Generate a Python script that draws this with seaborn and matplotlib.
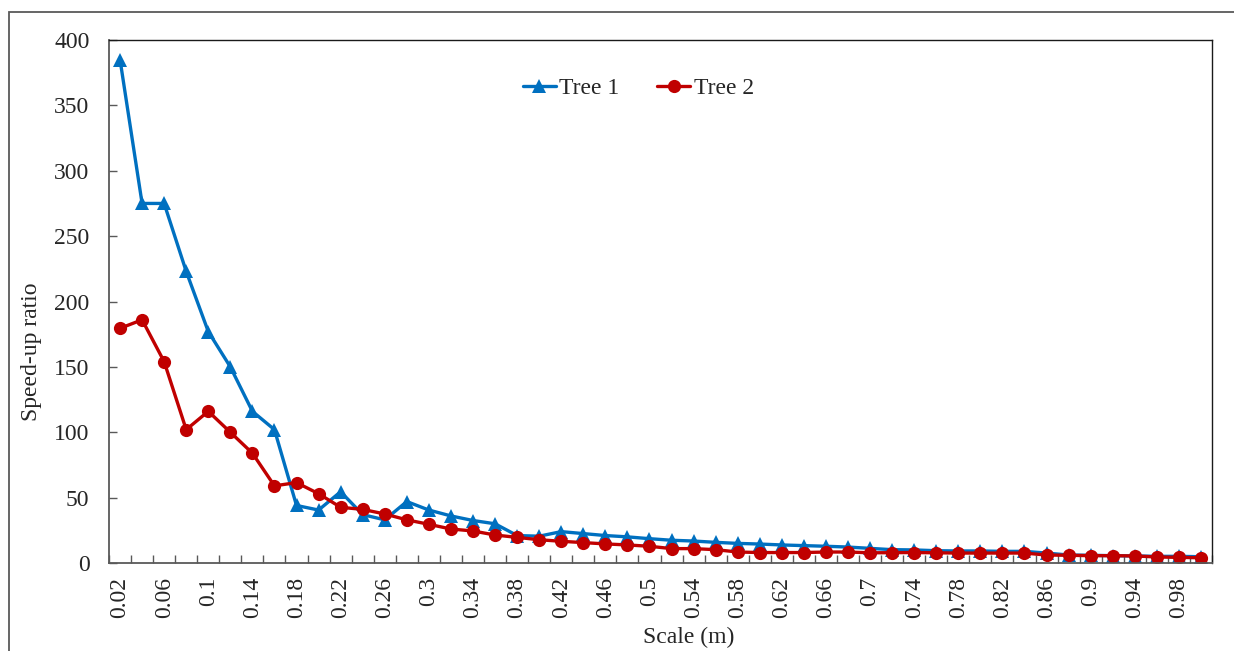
import pandas as pd
import matplotlib.pyplot as plt
import seaborn as sns
from matplotlib.patches import Rectangle

# scale values (m), one category every 0.02
scale = [0.02, 0.04, 0.06, 0.08, 0.10, 0.12, 0.14, 0.16, 0.18, 0.20,
         0.22, 0.24, 0.26, 0.28, 0.30, 0.32, 0.34, 0.36, 0.38, 0.40,
         0.42, 0.44, 0.46, 0.48, 0.50, 0.52, 0.54, 0.56, 0.58, 0.60,
         0.62, 0.64, 0.66, 0.68, 0.70, 0.72, 0.74, 0.76, 0.78, 0.80,
         0.82, 0.84, 0.86, 0.88, 0.90, 0.92, 0.94, 0.96, 0.98, 1.00]

tree1 = [385, 275, 275, 223, 177, 150, 116, 102, 44, 40.5,
         54.5, 37, 33, 47, 40.5, 36, 32.5, 30, 21, 20.5,
         24, 22.5, 21, 20, 18.6, 17.4, 16.8, 15.8, 15, 14.5,
         13.8, 13.3, 12.8, 12.2, 11.2, 10.2, 10, 9.4, 9.2, 9.2,
         8.9, 8.9, 7.6, 6.1, 5.9, 5.6, 5.4, 5.1, 5.1, 4.8]

tree2 = [179.5, 186, 154, 102, 116, 100, 84, 59, 61.5, 53,
         42.6, 41, 37.5, 33, 29.6, 26, 24.5, 21.4, 19.6, 17.8,
         16.6, 15.6, 14.6, 13.8, 12.8, 11, 11, 10.2, 8.4, 8,
         8, 8, 8.4, 8.4, 7.8, 7.9, 8, 7.8, 7.6, 7.6,
         7.6, 7.6, 6.1, 5.9, 5.6, 5.6, 5.4, 4.6, 4.3, 4]

series = ['Tree 1', 'Tree 2']
colors = {'Tree 1': '#0070C0', 'Tree 2': '#C00000'}
markers = {'Tree 1': '^', 'Tree 2': 'o'}

df = pd.concat([
    pd.DataFrame({'Scale': scale, 'Speed-up': tree1, 'Tree': 'Tree 1'}),
    pd.DataFrame({'Scale': scale, 'Speed-up': tree2, 'Tree': 'Tree 2'}),
])

sns.set_style('white')
plt.rcParams['font.family'] = ['Liberation Serif', 'DejaVu Serif']
FS = 17

fig = plt.figure(figsize=(12.34, 6.51), dpi=100)
ax = fig.add_axes([109 / 1234, 1 - 563 / 651, (1212 - 109) / 1234, (563 - 40) / 651])

sns.lineplot(data=df, x='Scale', y='Speed-up', hue='Tree', style='Tree',
             hue_order=series, style_order=series, palette=colors,
             markers=markers, dashes=False, linewidth=2.4, markersize=9.5,
             markeredgewidth=0, sort=False, ax=ax)

# category-style x axis: labels every other category, tick marks at boundaries
ax.set_xlim(0.01, 1.01)
ax.set_xticks(scale[::2])
ax.set_xticklabels(['%g' % s for s in scale[::2]], rotation=90)
ax.set_xticks([s - 0.01 for s in scale] + [1.01], minor=True)
ax.tick_params(axis='x', which='major', length=0, pad=10, labelsize=FS)
ax.tick_params(axis='x', which='minor', direction='in', length=6,
               width=1, color='#595959', bottom=True)

ax.set_ylim(0, 400)
ax.set_yticks(range(0, 401, 50))
ax.tick_params(axis='y', direction='in', length=6, width=1, color='#595959',
               pad=14, labelsize=FS, left=True)

ax.set_xlabel('Scale (m)', fontsize=FS)
ax.xaxis.set_label_coords(0.526, -0.123)
ax.set_ylabel('Speed-up ratio', fontsize=FS)
ax.yaxis.set_label_coords(-0.061, 0.403)

for side in ['left', 'bottom']:
    ax.spines[side].set_color('#595959')
    ax.spines[side].set_linewidth(1.3)
for side in ['top', 'right']:
    ax.spines[side].set_color('#1a1a1a')
    ax.spines[side].set_linewidth(1.0)

ax.legend(loc='center', bbox_to_anchor=(0.480, 0.908), ncol=2,
          frameon=False, fontsize=FS, handlelength=1.4,
          columnspacing=1.6, handletextpad=0.15)

# outer chart border
fig.patches.append(Rectangle((9 / 1234, -0.1), 1.1, 1.1 - 12 / 651,
                             transform=fig.transFigure, fill=False,
                             edgecolor='#595959', linewidth=1.3))

fig.savefig('out.png', dpi=100)
